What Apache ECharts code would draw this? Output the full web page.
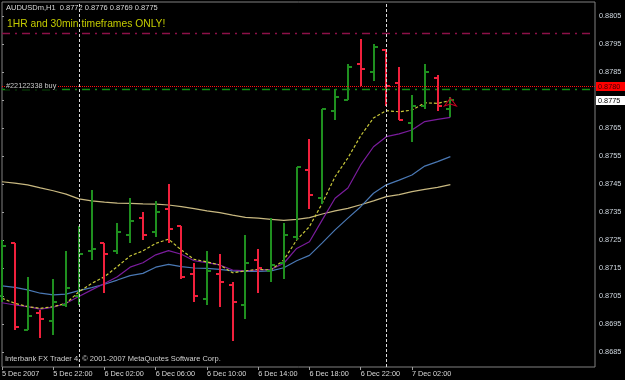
<!DOCTYPE html>
<html><head><meta charset="utf-8">
<script src="https://cdn.jsdelivr.net/npm/echarts@6/dist/echarts.min.js"></script>
<style>html,body{margin:0;padding:0;background:#000;}#c{width:625px;height:380px;}</style>
</head><body><div id="c"></div>
<script>
// Hourly bars, 5 Dec 2007 18:00 .. 7 Dec 2007 05:00 (AUDUSDm, H1)
const times = [
 '2007.12.05 18:00','2007.12.05 19:00','2007.12.05 20:00','2007.12.05 21:00','2007.12.05 22:00','2007.12.05 23:00',
 '2007.12.06 00:00','2007.12.06 01:00','2007.12.06 02:00','2007.12.06 03:00','2007.12.06 04:00','2007.12.06 05:00',
 '2007.12.06 06:00','2007.12.06 07:00','2007.12.06 08:00','2007.12.06 09:00','2007.12.06 10:00','2007.12.06 11:00',
 '2007.12.06 12:00','2007.12.06 13:00','2007.12.06 14:00','2007.12.06 15:00','2007.12.06 16:00','2007.12.06 17:00',
 '2007.12.06 18:00','2007.12.06 19:00','2007.12.06 20:00','2007.12.06 21:00','2007.12.06 22:00','2007.12.06 23:00',
 '2007.12.07 00:00','2007.12.07 01:00','2007.12.07 02:00','2007.12.07 03:00','2007.12.07 04:00','2007.12.07 05:00'
];
const open  = [0.8705,0.8724,0.8693,0.8699,0.8696,0.8702,0.8705,0.8721,0.8724,0.8721,0.8727,0.8733,0.8728,0.8736,0.8730,0.8713,0.8704,0.8713,0.8709,0.8702,0.8718,0.8714,0.8717,0.8726,0.8750,0.8740,0.8771,0.8775,0.8788,0.8785,0.8793,0.8781,0.8767,0.8773,0.8783,0.8772];
const high  = [0.8725,0.8724,0.8712,0.8700,0.8711,0.8721,0.8730,0.8743,0.8724,0.8731,0.8740,0.8735,0.8739,0.8745,0.8730,0.8717,0.8721,0.8720,0.8710,0.8727,0.8722,0.8733,0.8731,0.8751,0.8761,0.8772,0.8779,0.8788,0.8797,0.8795,0.8793,0.8787,0.8777,0.8788,0.8784,0.8776];
const low   = [0.8703,0.8693,0.8693,0.8690,0.8691,0.8701,0.8702,0.8718,0.8706,0.8720,0.8724,0.8725,0.8726,0.8724,0.8711,0.8703,0.8702,0.8701,0.8689,0.8697,0.8706,0.8710,0.8711,0.8725,0.8736,0.8738,0.8768,0.8775,0.8780,0.8782,0.8773,0.8768,0.8760,0.8772,0.8771,0.8769];
const close = [0.8723,0.8694,0.8698,0.8697,0.8703,0.8708,0.8720,0.8722,0.8720,0.8728,0.8732,0.8727,0.8735,0.8729,0.8712,0.8705,0.8714,0.8710,0.8703,0.8717,0.8715,0.8716,0.8727,0.8751,0.8741,0.8772,0.8776,0.8787,0.8786,0.8794,0.8780,0.8768,0.8773,0.8785,0.8773,0.8775];

// Moving averages
const maFast = [0.87043,0.87025,0.87013,0.87007,0.87013,0.87025,0.87066,0.87096,0.87120,0.87156,0.87194,0.87212,0.87239,0.87254,0.87215,0.87182,0.87173,0.87162,0.87134,0.87141,0.87146,0.87144,0.87180,0.87251,0.87299,0.87382,0.87477,0.87544,0.87623,0.87687,0.87713,0.87709,0.87715,0.87741,0.87739,0.87749];
const maMid  = [0.87027,0.87019,0.87013,0.87004,0.87011,0.87025,0.87049,0.87073,0.87096,0.87120,0.87154,0.87170,0.87198,0.87213,0.87200,0.87177,0.87170,0.87162,0.87144,0.87141,0.87144,0.87146,0.87168,0.87221,0.87245,0.87323,0.87400,0.87437,0.87519,0.87584,0.87620,0.87630,0.87644,0.87674,0.87682,0.87689];
const maSlow = [0.87087,0.87082,0.87073,0.87061,0.87055,0.87058,0.87070,0.87081,0.87093,0.87108,0.87124,0.87132,0.87154,0.87164,0.87156,0.87151,0.87150,0.87146,0.87141,0.87139,0.87139,0.87141,0.87152,0.87177,0.87196,0.87241,0.87287,0.87329,0.87370,0.87418,0.87448,0.87465,0.87483,0.87515,0.87531,0.87549];
const maLong = [0.87459,0.87454,0.87448,0.87437,0.87427,0.87415,0.87398,0.87391,0.87386,0.87383,0.87382,0.87380,0.87379,0.87376,0.87370,0.87363,0.87355,0.87349,0.87340,0.87332,0.87329,0.87325,0.87321,0.87325,0.87331,0.87344,0.87355,0.87364,0.87377,0.87391,0.87406,0.87413,0.87424,0.87432,0.87439,0.87449];

// Axis ticks
const xTickIdx = [0,4,8,12,16,20,24,28,32];
const xTickLabels = ['5 Dec 2007','5 Dec 22:00','6 Dec 02:00','6 Dec 06:00','6 Dec 10:00','6 Dec 14:00','6 Dec 18:00','6 Dec 22:00','7 Dec 02:00'];
const yTicks = [0.8685,0.8695,0.8705,0.8715,0.8725,0.8735,0.8745,0.8755,0.8765,0.8775,0.8785,0.8795,0.8805];
const daySeparators = [6, 30];

// Levels
const upperLevel = 0.87988;
const buyLevel = 0.8780;
const askLevel = 0.87789;
const orderLabel = '#22122338 buy';
const symbolTitle = 'AUDUSDm,H1';
const noteText = '1HR and 30min timeframes ONLY!';
const footerText = 'Interbank FX Trader 4, \u00a9 2001-2007 MetaQuotes Software Corp.';

const UP = '#1f8f1f', DOWN = '#f0203c';
const FONT = 'Liberation Sans';
const last = close.length - 1;
const bid = close[last];

const ohlc = open.map((o, i) => [i, o, high[i], low[i], close[i]]);
const pair = arr => arr.map((v, i) => [i, v]);

const chart = echarts.init(document.getElementById('c'), null, {renderer: 'canvas'});
const option = {
  backgroundColor: '#000',
  animation: false,
  grid: {left: 2, right: 30, top: 2, bottom: 13, show: true, borderColor: '#808080', borderWidth: 1, backgroundColor: '#000', outerBoundsMode: 'none'},
  xAxis: {
    type: 'value', min: 0, max: 46.29,
    axisLine: {show: false},
    splitLine: {show: false},
    axisTick: {show: true, customValues: xTickIdx, length: 3, lineStyle: {color: '#a0a0a0'}},
    axisLabel: {
      customValues: xTickIdx, color: '#d8d8d8', fontFamily: FONT, fontSize: 7.3, margin: 3, align: 'left',
      formatter: v => xTickLabels[xTickIdx.indexOf(Math.round(v))] || ''
    }
  },
  yAxis: {
    type: 'value', position: 'right', min: 0.867975, max: 0.88101, scale: true,
    axisLine: {show: false},
    splitLine: {show: false},
    axisTick: {show: true, customValues: yTicks, length: 2, lineStyle: {color: '#a0a0a0'}},
    axisLabel: {customValues: yTicks, color: '#d0d8e0', fontFamily: FONT, fontSize: 7.3, margin: 4, formatter: v => v.toFixed(4)}
  },
  series: [
    {type: 'line', data: pair(maLong), showSymbol: false, silent: true, z: 2, lineStyle: {color: '#c8b880', width: 1.2},
     markLine: {silent: true, symbol: 'none', precision: 6, label: {show: false}, animation: false,
       data: [
         {yAxis: upperLevel, lineStyle: {color: '#8c1048', width: 1.3, type: [8,5,2,5]}},
         {yAxis: askLevel, lineStyle: {color: '#138a13', width: 1.3, type: [8,5,2,5]}},
         {yAxis: buyLevel, lineStyle: {color: '#ff1010', width: 1, type: [1,1]}},
         ...daySeparators.map(d => ({xAxis: d, lineStyle: {color: '#d8d8d8', width: 1, type: [3,2]}}))
       ]}},
    {type: 'line', data: pair(maSlow), showSymbol: false, silent: true, z: 2, lineStyle: {color: '#4a78b4', width: 1.2}},
    {type: 'line', data: pair(maMid), showSymbol: false, silent: true, z: 2, lineStyle: {color: '#7a1c9c', width: 1.2}},
    {type: 'line', data: pair(maFast), showSymbol: false, silent: true, z: 2, lineStyle: {color: '#c8c83a', width: 1.2, type: [3,2]}},
    {type: 'custom', data: ohlc, z: 3, clip: false,
     encode: {x: 0, y: [1,2,3,4]},
     renderItem: (params, api) => {
       const i = api.value(0);
       const o = api.value(1), h = api.value(2), l = api.value(3), c = api.value(4);
       const ph = api.coord([i, h]), pl = api.coord([i, l]), po = api.coord([i, o]), pc = api.coord([i, c]);
       const x = Math.round(ph[0]);
       const col = c >= o ? UP : DOWN;
       const st = {stroke: col, lineWidth: 2};
       return {type: 'group', children: [
         {type: 'line', shape: {x1: x, y1: Math.round(ph[1]), x2: x, y2: Math.round(pl[1])}, style: st},
         {type: 'line', shape: {x1: x - 4, y1: Math.round(po[1]), x2: x, y2: Math.round(po[1])}, style: st},
         {type: 'line', shape: {x1: x, y1: Math.round(pc[1]), x2: x + 4, y2: Math.round(pc[1])}, style: st}
       ]};
     },
     markPoint: {silent: true, symbol: 'arrow', symbolSize: [9, 8], label: {show: false},
       itemStyle: {color: 'rgba(0,0,0,0)', borderColor: '#c80020', borderWidth: 1},
       data: [{coord: [last, 0.87758]}]}
    }
  ]
};
chart.setOption(option);

const yBuy = chart.convertToPixel({yAxisIndex: 0}, buyLevel);
const yBid = chart.convertToPixel({yAxisIndex: 0}, bid);
const f = v => v.toFixed(4);
chart.setOption({
  graphic: [
    {type: 'text', left: 6, top: 4, z: 10, style: {text: symbolTitle + '  ' + [open[last], high[last], low[last], close[last]].map(f).join(' '), fill: '#d8d8d8', font: '7.5px "' + FONT + '"'}},
    {type: 'text', left: 7, top: 19, z: 10, style: {text: noteText, fill: '#c4cc00', font: '10.3px "' + FONT + '"'}},
    {type: 'text', left: 5, top: 355, z: 10, style: {text: footerText, fill: '#d0d0d0', font: '7.5px "' + FONT + '"'}},
    {type: 'text', x: 5, y: yBuy, z: 10, style: {text: orderLabel, fill: '#c8c8c8', font: '7.3px "' + FONT + '"', verticalAlign: 'middle', backgroundColor: '#000', padding: [0,1]}},
    {type: 'rect', shape: {x: 596, y: Math.round(yBuy) - 4, width: 29, height: 9}, z: 10, style: {fill: '#ff0000'}},
    {type: 'text', x: 598, y: yBuy + 0.5, z: 11, style: {text: f(buyLevel), fill: '#400000', font: '7.3px "' + FONT + '"', verticalAlign: 'middle'}},
    {type: 'rect', shape: {x: 596, y: Math.round(yBid) - 4, width: 29, height: 9}, z: 10, style: {fill: '#ffffff'}},
    {type: 'text', x: 598, y: yBid + 0.5, z: 11, style: {text: f(bid), fill: '#000000', font: '7.3px "' + FONT + '"', verticalAlign: 'middle'}}
  ]
});
</script>
</body></html>
